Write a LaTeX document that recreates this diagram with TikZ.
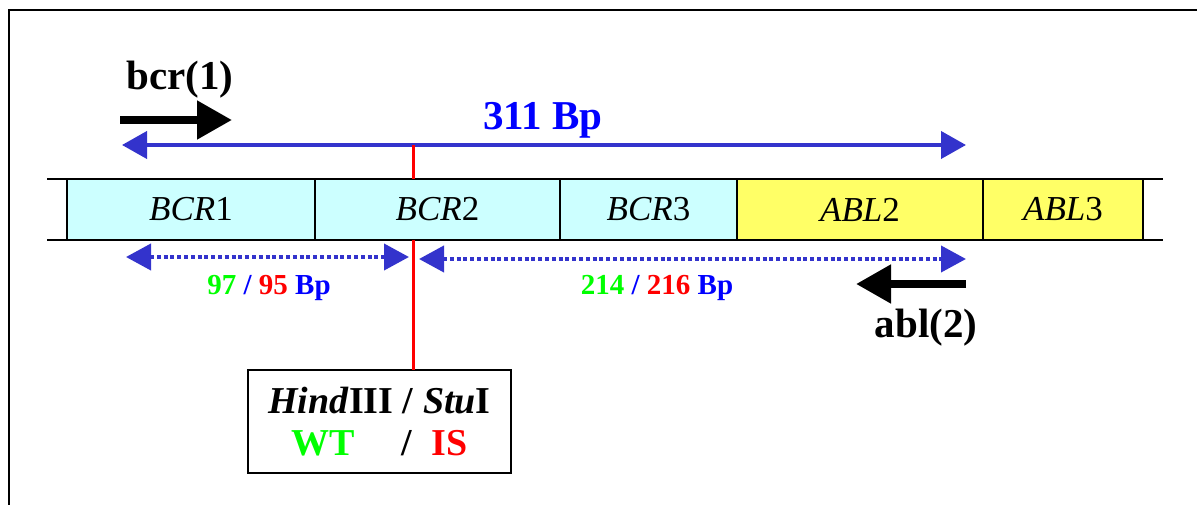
\documentclass[tikz,border=0pt]{standalone}
\usepackage{fontspec}
\setmainfont{Liberation Serif}
\usetikzlibrary{arrows.meta}
\definecolor{arrowblue}{RGB}{51,51,204}
\definecolor{exoncyan}{RGB}{204,255,255}
\definecolor{exonyellow}{RGB}{255,255,102}
\definecolor{txtgreen}{RGB}{0,255,0}
\definecolor{txtred}{RGB}{255,0,0}
\definecolor{txtblue}{RGB}{0,0,255}
\begin{document}
\begin{tikzpicture}[x=1pt,y=-1pt,
  exon/.style={draw=black,line width=2pt,minimum height=61pt,inner sep=0pt,outer sep=0pt,anchor=north west,
    font=\fontsize{35}{40}\selectfont},
  stub/.style={draw=black,line width=2pt},
  bluearrow/.style={draw=arrowblue,line width=4pt,
    arrows={Triangle[length=25pt,width=27pt,fill=arrowblue]-Triangle[length=25pt,width=27pt,fill=arrowblue]}},
  dotarrow/.style={draw=arrowblue,line width=4pt,dash pattern=on 4pt off 2.8pt,
    arrows={Triangle[length=25pt,width=26pt,fill=arrowblue]-Triangle[length=25pt,width=26pt,fill=arrowblue]}},
  primer/.style={draw=black,line width=8pt,-{Triangle[length=35pt,width=37pt]}},
  cutline/.style={draw=txtred,line width=3pt},
  bigbold/.style={font=\fontsize{41}{44}\selectfont\bfseries,inner sep=0pt},
  smallbold/.style={font=\fontsize{29}{33}\selectfont\bfseries,inner sep=0pt},
  enzbox/.style={draw=black,line width=2pt,fill=white,minimum width=263pt,minimum height=103pt,
    inner sep=0pt,outer sep=0pt,align=center,font=\fontsize{38}{44}\selectfont\bfseries}
]
\useasboundingbox (0,0) rectangle (1197,505);
% frame
\coordinate (fbl) at (9,506);
\coordinate (ftl) at (9,10);
\coordinate (ftr) at (1198,10);
\draw[line width=2pt] (fbl) -- (ftl) -- (ftr);

% exons
\node[exon,fill=exoncyan,minimum width=248pt] (b1) at (67,179) {\textit{BCR}1};
\node[exon,fill=exoncyan,minimum width=245pt] (b2) at (315,179) {\textit{BCR}2};
\node[exon,fill=exoncyan,minimum width=177pt] (b3) at (560,179) {\textit{BCR}3};
\node[exon,fill=exonyellow,minimum width=246pt] (a2) at (737,179) {\textit{ABL}2};
\node[exon,fill=exonyellow,minimum width=160pt] (a3) at (983,179) {\textit{ABL}3};

% stubs
\coordinate (s1) at (47,179);
\coordinate (s2) at (47,240);
\coordinate (s3) at (1163,179);
\coordinate (s4) at (1163,240);
\draw[stub] (s1) -- (b1.north west);
\draw[stub] (s2) -- (b1.south west);
\draw[stub] (a3.north east) -- (s3);
\draw[stub] (a3.south east) -- (s4);

% enzyme box
\node[enzbox] (enz) at (379.5,421.5)
  {\textit{Hind}III / \textit{Stu}I\\[-2pt]
   \textcolor{txtgreen}{WT}\hspace{47pt}/\hspace{20pt}\textcolor{txtred}{IS}};

% 311 arrow
\coordinate (l311) at (122,145);
\coordinate (r311) at (966,145);
\draw[bluearrow] (l311) -- (r311);
\node[bigbold,text=txtblue] (t311) at (543,120) {311 Bp};

% cut line
\coordinate (cut) at (413,145);
\draw[cutline] (cut) -- (cut |- b2.north);
\draw[cutline] (cut |- b2.south) -- (cut |- enz.north);

% dotted fragment arrows
\coordinate (d1l) at (126,257);
\coordinate (d1r) at (409,257);
\coordinate (d2l) at (419,259);
\coordinate (d2r) at (966,259);
\draw[dotarrow] (d1l) -- (d1r);
\draw[dotarrow] (d2l) -- (d2r);
\node[smallbold] (f1) at (269,288)
  {\textcolor{txtgreen}{97} \textcolor{txtblue}{/} \textcolor{txtred}{95} \textcolor{txtblue}{Bp}};
\node[smallbold] (f2) at (657,288)
  {\textcolor{txtgreen}{214} \textcolor{txtblue}{/} \textcolor{txtred}{216} \textcolor{txtblue}{Bp}};

% primers
\coordinate (p1s) at (120,120);
\coordinate (p1e) at (232,120);
\draw[primer] (p1s) -- (p1e);
\node[bigbold] (bcr) at (180,80) {bcr(1)};
\coordinate (p2s) at (966,284);
\coordinate (p2e) at (856,284);
\draw[primer] (p2s) -- (p2e);
\node[bigbold] (abl) at (926,328) {abl(2)};
\end{tikzpicture}
\end{document}
